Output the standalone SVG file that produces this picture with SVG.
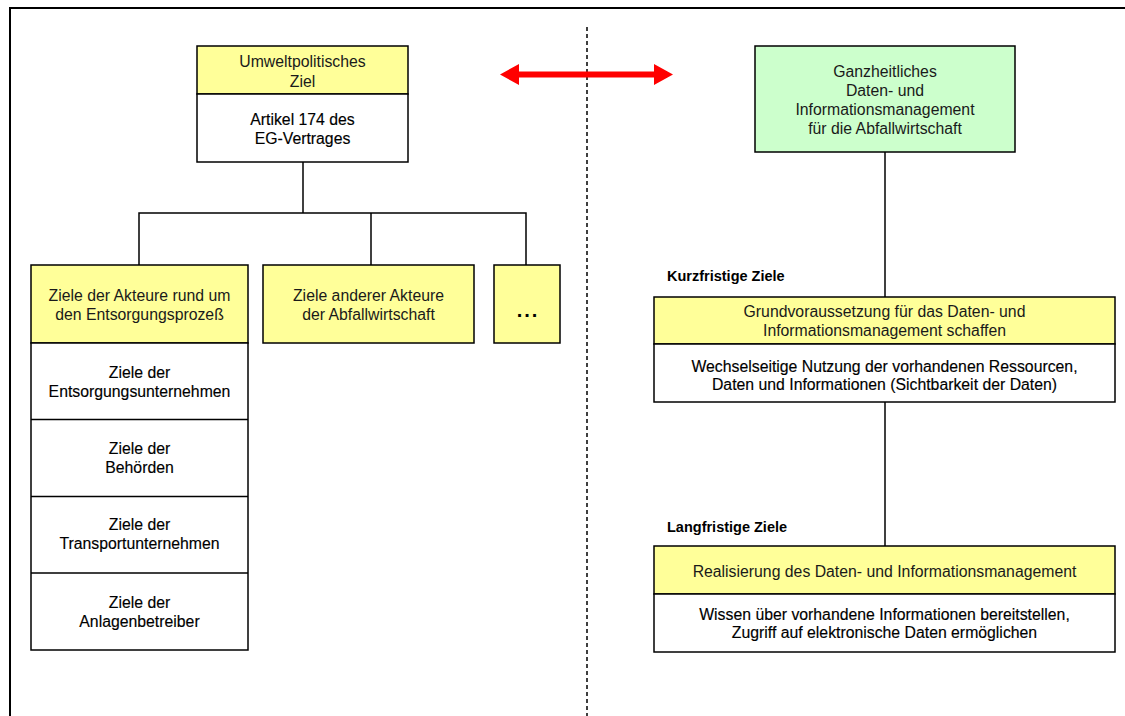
<svg xmlns="http://www.w3.org/2000/svg" width="1125" height="716" viewBox="0 0 1125 716">
  <style>
    .frame { fill: none; stroke: #000; stroke-width: 2; }
    .box { stroke: #000; stroke-width: 1.5; }
    .yellow { fill: #FFFF99; }
    .green { fill: #CCFFCC; }
    .white { fill: #FFFFFF; }
    .sep { stroke: #000; stroke-width: 1.5; fill: none; }
    .link { stroke: #000; stroke-width: 1.5; fill: none; }
    text { font-family: "Liberation Sans", Arial, Helvetica, sans-serif; font-size: 15.8px; text-anchor: middle; }
    .hd { fill: #1a1a1a; }
    .bd { fill: #000; stroke: #000; stroke-width: 0.15; }
    .lbl { font-weight: bold; font-size: 14.5px; text-anchor: start; fill: #000; }
  </style>

  <rect width="1125" height="716" fill="#FFFFFF"/>

  <!-- page frame -->
  <path class="frame" d="M10,716 V8 H1125"/>

  <!-- divider between the two halves -->
  <line x1="587" y1="27" x2="587" y2="716" stroke="#000" stroke-width="1.5" stroke-dasharray="4,3"/>

  <!-- red double arrow -->
  <polygon fill="#FF0000" points="500,74.5 519,64 519,71.5 654,71.5 654,64 673,74.5 654,85 654,77.5 519,77.5 519,85"/>

  <!-- connectors -->
  <g id="connectors">
    <path class="link" d="M303,162 V213"/>
    <path class="link" d="M139,265 V213 H526 V265"/>
    <path class="link" d="M371,213 V265"/>
    <path class="link" d="M885,152 V297"/>
    <path class="link" d="M885,402 V546"/>
  </g>

  <!-- top node: environmental policy goal -->
  <g id="node-umweltziel">
    <rect class="box yellow" x="197" y="46" width="211" height="48"/>
    <rect class="box white" x="197" y="94" width="211" height="68"/>
    <text class="hd" x="302.5" y="66.5">Umweltpolitisches</text>
    <text class="hd" x="302.5" y="87">Ziel</text>
    <text class="bd" x="302.5" y="125">Artikel 174 des</text>
    <text class="bd" x="302.5" y="144">EG-Vertrages</text>
  </g>

  <!-- actors around the disposal process -->
  <g id="node-akteure-entsorgung">
    <rect class="box yellow" x="31" y="265" width="217" height="78"/>
    <rect class="box white" x="31" y="343" width="217" height="307"/>
    <path class="sep" d="M31,419.5 H248 M31,496.5 H248 M31,573 H248"/>
    <text class="hd" x="139.5" y="301">Ziele der Akteure rund um</text>
    <text class="hd" x="139.5" y="320">den Entsorgungsprozeß</text>
    <text class="bd" x="139.5" y="378">Ziele der</text>
    <text class="bd" x="139.5" y="397">Entsorgungsunternehmen</text>
    <text class="bd" x="139.5" y="454">Ziele der</text>
    <text class="bd" x="139.5" y="473">Behörden</text>
    <text class="bd" x="139.5" y="530">Ziele der</text>
    <text class="bd" x="139.5" y="549">Transportunternehmen</text>
    <text class="bd" x="139.5" y="608">Ziele der</text>
    <text class="bd" x="139.5" y="627">Anlagenbetreiber</text>
  </g>

  <!-- other actors -->
  <g id="node-andere-akteure">
    <rect class="box yellow" x="263" y="265" width="211" height="78"/>
    <text class="hd" x="368.5" y="301">Ziele anderer Akteure</text>
    <text class="hd" x="368.5" y="320">der Abfallwirtschaft</text>
  </g>

  <!-- further actors -->
  <g id="node-weitere">
    <rect class="box yellow" x="494" y="265" width="66" height="78"/>
    <text x="528" y="317" style="font-weight:bold;font-size:20px;letter-spacing:2px;fill:#000">...</text>
  </g>

  <!-- holistic data and information management -->
  <g id="node-datenmanagement">
    <rect class="box green" x="755" y="46" width="260" height="106"/>
    <text class="hd" x="885" y="77">Ganzheitliches</text>
    <text class="hd" x="885" y="96">Daten- und</text>
    <text class="hd" x="885" y="115">Informationsmanagement</text>
    <text class="hd" x="885" y="134">für die Abfallwirtschaft</text>
  </g>

  <!-- short-term goals -->
  <text class="lbl" x="667" y="281">Kurzfristige Ziele</text>
  <g id="node-kurzfristig">
    <rect class="box yellow" x="654" y="297" width="461" height="47"/>
    <rect class="box white" x="654" y="344" width="461" height="58"/>
    <text class="hd" x="884.5" y="317">Grundvoraussetzung für das Daten- und</text>
    <text class="hd" x="884.5" y="336">Informationsmanagement schaffen</text>
    <text class="bd" x="884.5" y="372">Wechselseitige Nutzung der vorhandenen Ressourcen,</text>
    <text class="bd" x="884.5" y="390">Daten und Informationen (Sichtbarkeit der Daten)</text>
  </g>

  <!-- long-term goals -->
  <text class="lbl" x="667" y="532">Langfristige Ziele</text>
  <g id="node-langfristig">
    <rect class="box yellow" x="654" y="546" width="461" height="48"/>
    <rect class="box white" x="654" y="594" width="461" height="58"/>
    <text class="hd" x="884.5" y="577">Realisierung des Daten- und Informationsmanagement</text>
    <text class="bd" x="884.5" y="620">Wissen über vorhandene Informationen bereitstellen,</text>
    <text class="bd" x="884.5" y="638">Zugriff auf elektronische Daten ermöglichen</text>
  </g>
</svg>
